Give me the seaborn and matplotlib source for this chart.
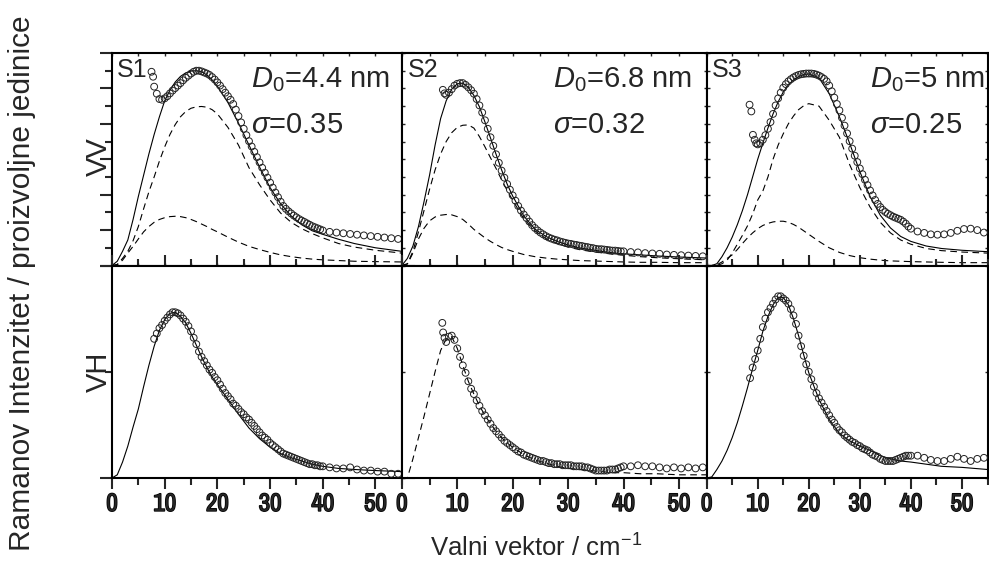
import numpy as np
import matplotlib
matplotlib.use('Agg')
import matplotlib.pyplot as plt
import matplotlib.patheffects as pe
from matplotlib.ticker import MultipleLocator
import seaborn as sns

###################################################################################
# Data (x in cm^-1, intensity in arbitrary units)

# dense measurement grid 8.0 ... 40.0 (step 0.5) and sparse tail beyond 40
q_dense = [8.0, 8.5, 9.0, 9.5, 10.0, 10.5, 11.0, 11.5, 12.0, 12.5,
           13.0, 13.5, 14.0, 14.5, 15.0, 15.5, 16.0, 16.5, 17.0, 17.5,
           18.0, 18.5, 19.0, 19.5, 20.0, 20.5, 21.0, 21.5, 22.0, 22.5,
           23.0, 23.5, 24.0, 24.5, 25.0, 25.5, 26.0, 26.5, 27.0, 27.5,
           28.0, 28.5, 29.0, 29.5, 30.0, 30.5, 31.0, 31.5, 32.0, 32.5,
           33.0, 33.5, 34.0, 34.5, 35.0, 35.5, 36.0, 36.5, 37.0, 37.5,
           38.0, 38.5, 39.0, 39.5, 40.0]
q_tail = [41.3, 42.6, 43.9, 45.2, 46.5, 47.8, 49.1, 50.4, 51.7, 53.0, 54.3]
q_fit = [0, 1, 2, 3, 4, 5, 6, 7, 8, 9, 10, 11, 12, 13, 14, 15, 16, 17, 18, 19, 20,
         22, 24, 26, 28, 30, 32, 34, 36, 38, 40, 43, 46, 50, 55]

# ---- S1 ----
s1_vv_data = [5.05, 4.85, 4.70, 4.68, 4.72, 4.78, 4.86, 4.94, 5.01, 5.08,
              5.15, 5.23, 5.30, 5.36, 5.42, 5.47, 5.50, 5.50, 5.48, 5.45,
              5.42, 5.38, 5.32, 5.25, 5.17, 5.08, 4.98, 4.88, 4.78, 4.68,
              4.56, 4.40, 4.22, 4.04, 3.86, 3.68, 3.51, 3.36, 3.21, 3.06,
              2.91, 2.76, 2.62, 2.48, 2.34, 2.20, 2.06, 1.93, 1.80, 1.68,
              1.60, 1.53, 1.47, 1.41, 1.36, 1.31, 1.27, 1.23, 1.19, 1.15,
              1.11, 1.08, 1.05, 1.02, 0.99]
s1_vv_tail = [0.95, 0.93, 0.91, 0.89, 0.87, 0.85, 0.83, 0.81, 0.79, 0.77, 0.75]
s1_vv_out_x = [7.5, 7.8]
s1_vv_out_y = [5.47, 5.33]
s1_vv_fit = [0.0, 0.12, 0.40, 0.72, 1.30, 1.95, 2.55, 3.15, 3.70, 4.20, 4.65,
             4.95, 5.18, 5.34, 5.44, 5.49, 5.50, 5.47, 5.38, 5.24, 5.06,
             4.60, 4.02, 3.40, 2.78, 2.20, 1.74, 1.40, 1.15, 0.98, 0.88,
             0.74, 0.62, 0.50, 0.40]
s1_vv_big = [0.0, 0.03, 0.20, 0.40, 0.70, 1.10, 1.60, 2.08, 2.50, 2.95, 3.35,
             3.70, 3.98, 4.20, 4.35, 4.44, 4.48, 4.49, 4.47, 4.40, 4.28,
             3.90, 3.40, 2.76, 2.28, 1.85, 1.48, 1.22, 1.04, 0.90, 0.78,
             0.62, 0.52, 0.43, 0.35]
s1_vv_small = [0.0, 0.02, 0.15, 0.35, 0.54, 0.75, 0.95, 1.10, 1.22, 1.30, 1.35,
               1.38, 1.39, 1.38, 1.35, 1.30, 1.24, 1.17, 1.10, 1.02, 0.95,
               0.80, 0.66, 0.54, 0.45, 0.37, 0.30, 0.25, 0.21, 0.18, 0.16,
               0.14, 0.12, 0.11, 0.10]
s1_vh_data = [1.31, 1.36, 1.41, 1.44, 1.48, 1.51, 1.54, 1.56, 1.56, 1.55,
              1.53, 1.50, 1.47, 1.43, 1.38, 1.32, 1.26, 1.19, 1.14, 1.10,
              1.06, 1.02, 0.99, 0.95, 0.92, 0.88, 0.84, 0.80, 0.77, 0.74,
              0.70, 0.68, 0.65, 0.62, 0.60, 0.57, 0.55, 0.52, 0.49, 0.46,
              0.43, 0.40, 0.38, 0.36, 0.33, 0.31, 0.29, 0.27, 0.25, 0.23,
              0.22, 0.21, 0.20, 0.19, 0.18, 0.17, 0.16, 0.15, 0.14, 0.13,
              0.13, 0.12, 0.12, 0.11, 0.11]
s1_vh_tail = [0.10, 0.09, 0.09, 0.10, 0.08, 0.07, 0.07, 0.06, 0.06, 0.04, 0.04]
s1_vh_fit = [0.0, 0.03, 0.15, 0.30, 0.48, 0.65, 0.86, 1.06, 1.24, 1.39, 1.49,
             1.55, 1.56, 1.52, 1.46, 1.36, 1.25, 1.14, 1.04, 0.95, 0.88,
             0.74, 0.60, 0.47, 0.37, 0.29, 0.23, 0.19, 0.16, 0.13, 0.11,
             0.09, 0.08, 0.07, 0.06]

# ---- S2 ----
s2_vv_data = [4.82, 4.88, 4.98, 5.08, 5.13, 5.15, 5.15, 5.10, 5.03, 4.95,
              4.85, 4.70, 4.52, 4.32, 4.10, 3.86, 3.62, 3.38, 3.14, 2.90,
              2.68, 2.48, 2.30, 2.14, 1.98, 1.83, 1.68, 1.55, 1.44, 1.34,
              1.24, 1.14, 1.06, 0.99, 0.93, 0.88, 0.83, 0.79, 0.76, 0.73,
              0.71, 0.68, 0.66, 0.64, 0.62, 0.61, 0.59, 0.58, 0.56, 0.55,
              0.53, 0.52, 0.50, 0.49, 0.47, 0.46, 0.46, 0.45, 0.44, 0.43,
              0.42, 0.42, 0.41, 0.40, 0.40]
s2_vv_tail = [0.38, 0.37, 0.35, 0.34, 0.33, 0.31, 0.30, 0.29, 0.28, 0.27, 0.26]
s2_vv_out_x = [7.4, 7.7]
s2_vv_out_y = [4.96, 4.86]
s2_vv_fit = [0.0, 0.20, 0.55, 1.10, 1.80, 2.55, 3.40, 4.15, 4.65, 4.98, 5.13,
             5.15, 5.03, 4.80, 4.48, 4.05, 3.60, 3.14, 2.70, 2.30, 1.96,
             1.40, 1.03, 0.82, 0.68, 0.58, 0.50, 0.45, 0.40, 0.36, 0.33,
             0.30, 0.27, 0.24, 0.21]
s2_vv_big = [0.0, 0.05, 0.40, 0.95, 1.55, 2.15, 2.70, 3.15, 3.50, 3.75, 3.90,
             3.96, 3.97, 3.88, 3.64, 3.35, 3.04, 2.74, 2.42, 2.12, 1.84,
             1.32, 0.98, 0.76, 0.62, 0.52, 0.45, 0.40, 0.36, 0.32, 0.29,
             0.25, 0.22, 0.19, 0.16]
s2_vv_small = [0.0, 0.04, 0.35, 0.75, 1.05, 1.26, 1.37, 1.42, 1.44, 1.43, 1.38,
               1.30, 1.17, 1.02, 0.90, 0.78, 0.68, 0.59, 0.51, 0.45, 0.40,
               0.31, 0.25, 0.21, 0.18, 0.16, 0.14, 0.13, 0.12, 0.11, 0.10,
               0.09, 0.09, 0.08, 0.08]
s2_vh_data = [1.28, 1.33, 1.34, 1.30, 1.22, 1.14, 1.06, 0.99, 0.91, 0.84,
              0.79, 0.73, 0.68, 0.63, 0.59, 0.55, 0.51, 0.47, 0.44, 0.41,
              0.38, 0.35, 0.33, 0.31, 0.29, 0.27, 0.25, 0.24, 0.22, 0.21,
              0.20, 0.19, 0.18, 0.17, 0.16, 0.16, 0.15, 0.14, 0.14, 0.13,
              0.13, 0.13, 0.12, 0.12, 0.12, 0.12, 0.11, 0.11, 0.11, 0.11,
              0.10, 0.10, 0.09, 0.08, 0.07, 0.07, 0.07, 0.07, 0.07, 0.08,
              0.08, 0.08, 0.09, 0.10, 0.11]
s2_vh_tail = [0.11, 0.12, 0.11, 0.11, 0.10, 0.09, 0.10, 0.09, 0.10, 0.09, 0.10]
s2_vh_out_x = [7.3, 7.45, 7.7]
s2_vh_out_y = [1.46, 1.37, 1.32]
s2_vh_fit = [0.0, 0.0, 0.18, 0.38, 0.58, 0.79, 1.00, 1.20, 1.31, 1.33, 1.22,
             1.06, 0.91, 0.79, 0.68, 0.59, 0.51, 0.44, 0.38, 0.33, 0.29,
             0.22, 0.17, 0.14, 0.11, 0.09, 0.08, 0.07, 0.06, 0.05, 0.05,
             0.04, 0.04, 0.03, 0.03]

# ---- S3 ----
s3_vv_data = [np.nan, np.nan, np.nan, np.nan, 3.42, 3.45, 3.55, 3.68, 3.86, 4.05,
              4.28, 4.52, 4.72, 4.88, 5.02, 5.12, 5.20, 5.26, 5.31, 5.35,
              5.38, 5.40, 5.41, 5.42, 5.42, 5.42, 5.41, 5.39, 5.36, 5.32,
              5.27, 5.20, 5.08, 4.92, 4.74, 4.56, 4.38, 4.17, 3.95, 3.73,
              3.51, 3.30, 3.10, 2.92, 2.74, 2.58, 2.42, 2.27, 2.12, 1.98,
              1.85, 1.74, 1.65, 1.57, 1.51, 1.46, 1.42, 1.38, 1.35, 1.32,
              1.29, 1.24, 1.18, 1.10, 1.04]
s3_vv_tail = [0.96, 0.92, 0.88, 0.87, 0.88, 0.92, 0.98, 1.03, 1.04, 1.00, 0.93]
s3_vv_out_x = [8.4, 8.75, 9.06, 9.4, 9.7]
s3_vv_out_y = [4.54, 4.35, 3.69, 3.55, 3.45]
s3_vv_fit = [0.0, 0.0, 0.05, 0.25, 0.50, 0.80, 1.15, 1.55, 2.00, 2.50, 3.00,
             3.45, 3.88, 4.28, 4.62, 4.90, 5.10, 5.24, 5.33, 5.39, 5.41,
             5.30, 4.85, 4.20, 3.45, 2.65, 1.95, 1.42, 1.06, 0.82, 0.68,
             0.55, 0.48, 0.43, 0.39]
s3_vv_big = [0.0, 0.0, 0.0, 0.05, 0.15, 0.35, 0.60, 0.85, 1.12, 1.45, 1.85,
             2.10, 2.50, 3.00, 3.40, 3.72, 4.00, 4.22, 4.40, 4.51, 4.57,
             4.50, 4.10, 3.62, 2.85, 2.20, 1.65, 1.22, 0.92, 0.72, 0.60,
             0.48, 0.42, 0.38, 0.35]
s3_vv_small = [0.0, 0.0, 0.02, 0.10, 0.20, 0.30, 0.45, 0.62, 0.78, 0.92, 1.04,
               1.13, 1.19, 1.23, 1.25, 1.25, 1.22, 1.16, 1.08, 0.98, 0.88,
               0.68, 0.50, 0.37, 0.28, 0.22, 0.18, 0.15, 0.13, 0.12, 0.11,
               0.10, 0.09, 0.08, 0.08]
s3_vh_data = [np.nan, 0.94, 1.04, 1.12, 1.20, 1.31, 1.42, 1.50, 1.56, 1.60,
              1.64, 1.68, 1.71, 1.71, 1.69, 1.67, 1.64, 1.59, 1.53, 1.45,
              1.34, 1.24, 1.15, 1.07, 1.00, 0.93, 0.86, 0.80, 0.75, 0.71,
              0.67, 0.63, 0.59, 0.55, 0.52, 0.48, 0.45, 0.43, 0.40, 0.38,
              0.36, 0.34, 0.33, 0.31, 0.30, 0.28, 0.27, 0.26, 0.24, 0.22,
              0.21, 0.20, 0.18, 0.17, 0.16, 0.16, 0.16, 0.16, 0.17, 0.18,
              0.19, 0.20, 0.21, 0.21, 0.21]
s3_vh_tail = [0.21, 0.19, 0.17, 0.16, 0.16, 0.18, 0.20, 0.18, 0.16, 0.18, 0.19]
s3_vh_fit = [0.0, 0.01, 0.08, 0.16, 0.26, 0.38, 0.52, 0.68, 0.85, 1.03, 1.20,
             1.38, 1.52, 1.63, 1.70, 1.70, 1.63, 1.50, 1.34, 1.16, 0.99,
             0.74, 0.55, 0.42, 0.35, 0.30, 0.26, 0.21, 0.18, 0.16, 0.15,
             0.13, 0.11, 0.10, 0.08]

sample_names = ['S1', 'S2', 'S3']
d0_labels = ['4.4', '6.8', '5']
sigma_labels = ['0.35', '0.32', '0.25']
x_ticks = [0, 10, 20, 30, 40, 50]

###################################################################################
# Seaborn plots

sns.set_style('ticks')
plt.rcParams['font.family'] = ['Liberation Sans', 'DejaVu Sans']
plt.rcParams['mathtext.fontset'] = 'custom'
plt.rcParams['mathtext.rm'] = 'Liberation Sans'
plt.rcParams['mathtext.it'] = 'Liberation Sans:italic'
plt.rcParams['mathtext.sf'] = 'Liberation Sans'

W, H = 989, 573
fig = plt.figure(figsize=(W / 100, H / 100), dpi=100)
gs = fig.add_gridspec(2, 3, left=112 / W, right=987.5 / W, top=1 - 53 / H, bottom=1 - 478 / H,
                      wspace=0, hspace=0, width_ratios=[290, 305, 281])

panels_top = [
    (s1_vv_data, s1_vv_tail, s1_vv_out_x, s1_vv_out_y, [s1_vv_fit], [s1_vv_big, s1_vv_small]),
    (s2_vv_data, s2_vv_tail, s2_vv_out_x, s2_vv_out_y, [s2_vv_fit], [s2_vv_big, s2_vv_small]),
    (s3_vv_data, s3_vv_tail, s3_vv_out_x, s3_vv_out_y, [s3_vv_fit], [s3_vv_big, s3_vv_small]),
]
panels_bot = [
    (s1_vh_data, s1_vh_tail, [], [], [s1_vh_fit], []),
    (s2_vh_data, s2_vh_tail, s2_vh_out_x, s2_vh_out_y, [], [s2_vh_fit]),
    (s3_vh_data, s3_vh_tail, [], [], [s3_vh_fit], []),
]

spine_w = 1.5
narrow = ['Liberation Sans Narrow', 'Archivo Narrow', 'Liberation Sans', 'DejaVu Sans']
bolden = [pe.withStroke(linewidth=1.1, foreground='black')]


def draw(ax, panel):
    data, tail, ox, oy, solids, dashed = panel
    for ys in solids:
        sns.lineplot(x=q_fit, y=ys, ax=ax, color='black', lw=0.8, estimator=None, sort=False)
    for ys in dashed:
        sns.lineplot(x=q_fit, y=ys, ax=ax, color='black', lw=0.8, estimator=None, sort=False,
                     linestyle=(0, (6, 4)))
    xs = list(ox) + q_dense + q_tail
    ys = list(oy) + list(data) + list(tail)
    sns.scatterplot(x=xs, y=ys, ax=ax, marker='o', s=24, facecolor='none',
                    edgecolor='#222222', linewidth=0.7, legend=False, zorder=3)


for row, panels in enumerate([panels_top, panels_bot]):
    for col, panel in enumerate(panels):
        ax = fig.add_subplot(gs[row, col])
        draw(ax, panel)
        ax.set_xlim(0, 55)
        if row == 0:
            ax.set_ylim(0, 6)
            ax.yaxis.set_major_locator(MultipleLocator(1))
            ax.yaxis.set_minor_locator(MultipleLocator(0.5))
        else:
            ax.set_ylim(0, 2)
            ax.yaxis.set_major_locator(MultipleLocator(2))
            ax.yaxis.set_minor_locator(MultipleLocator(1))
        ax.xaxis.set_major_locator(MultipleLocator(10))
        ax.xaxis.set_minor_locator(MultipleLocator(5))
        for sp in ax.spines.values():
            sp.set_visible(True)
            sp.set_linewidth(spine_w)
            sp.set_color('black')
        ax.set_xlabel('')
        ax.set_ylabel('')
        ax.set_yticklabels([])
        # y ticks
        if col == 0:
            ax.tick_params(axis='y', which='major', direction='out', length=9, width=spine_w,
                           right=True, labelleft=False)
            ax.tick_params(axis='y', which='minor', direction='out', length=5, width=spine_w,
                           right=True)
        else:
            ax.tick_params(axis='y', which='both', direction='in', length=2.5, width=1,
                           right=True, labelleft=False)
        # x ticks
        if row == 1:
            ax.tick_params(axis='x', which='major', direction='out', length=8, width=spine_w,
                           pad=2, labelsize=18, top=True)
            ax.tick_params(axis='x', which='minor', direction='out', length=5, width=spine_w, top=True)
            ax.set_xticks(x_ticks)
            ax.set_xticklabels([str(t) for t in x_ticks])
            for t in ax.get_xticklabels():
                t.set_fontfamily(narrow)
                t.set_fontweight('bold')
                t.set_path_effects(bolden)
        else:
            ax.tick_params(axis='x', which='both', direction='in', length=2.5, width=1,
                           top=True, labelbottom=False)
            ax.text(0.018, 0.887, sample_names[col], transform=ax.transAxes, fontsize=18,
                    ha='left', va='baseline')
            tx = [0.48, 0.495, 0.58][col]
            ax.text(tx, 0.84, r'$D_{\mathit{0}}$=' + d0_labels[col] + ' nm', transform=ax.transAxes,
                    fontsize=21, ha='left', va='baseline')
            ax.text(tx, 0.624, r'$\sigma$=' + sigma_labels[col], transform=ax.transAxes,
                    fontsize=21, ha='left', va='baseline')

fig.text(99 / W, 1 - 157 / H, 'VV', rotation=90, ha='center', va='center', fontsize=21)
fig.text(99 / W, 1 - 372 / H, 'VH', rotation=90, ha='center', va='center', fontsize=21)
fig.text(22 / W, 0.506, 'Ramanov Intenzitet / proizvoljne jedinice', rotation=90,
         ha='center', va='center', fontsize=21.5)
fig.text(536 / W, 1 - 548 / H, r'Valni vektor / cm$^{\mathregular{-1}}$', ha='center',
         va='center', fontsize=18.5)

fig.savefig('out.png', dpi=100)
